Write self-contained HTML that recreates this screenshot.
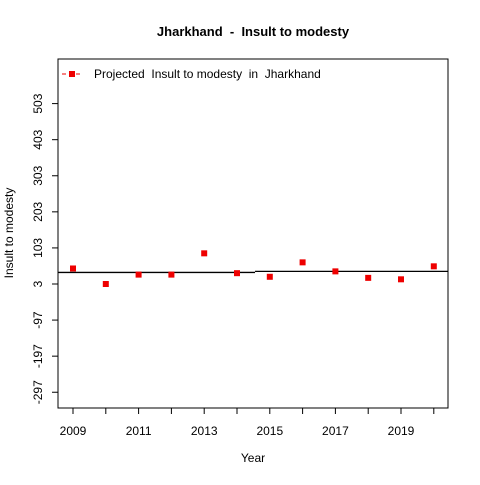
<!DOCTYPE html>
<html><head><meta charset="utf-8"><style>
body{margin:0;background:#fff;}
svg text{font-family:"Liberation Sans",Arial,sans-serif;white-space:pre;}
</style></head><body>
<svg id="chart" width="480" height="480" xmlns="http://www.w3.org/2000/svg" xml:space="preserve">
<text x="253" y="36" text-anchor="middle" font-size="13" font-weight="bold">Jharkhand  -  Insult to modesty</text>
<text x="253" y="462" text-anchor="middle" font-size="12">Year</text>
<text transform="translate(13,233) rotate(-90)" text-anchor="middle" font-size="12">Insult to modesty</text>
<rect x="58" y="59" width="390" height="349" fill="none" stroke="#000"/>
<g id="g"></g>
<g>
<line x1="62" y1="74" x2="82" y2="74" stroke="#e00" stroke-dasharray="4,3"/>
<rect x="69" y="71" width="6" height="6" fill="#e00"/>
<text x="94" y="78" font-size="12">Projected  Insult to modesty  in  Jharkhand</text>
</g>
</svg>
<script>
const years=[2009,2010,2011,2012,2013,2014,2015,2016,2017,2018,2019,2020];
const values=[46,3,29,29,88,33,23,63,38,20,16,52];
const yTicks=[-297,-197,-97,3,103,203,303,403,503];
const xTicks=[2009,2011,2013,2015,2017,2019];
const fitLeft=35, fitRight=38;
const X=v=>73+(v-2009)*32.8;
const Y=v=>284-(v-3)*0.3608;
const g=document.getElementById('g');
const NS='http://www.w3.org/2000/svg';
function mk(t,a){const e=document.createElementNS(NS,t);for(const k in a)e.setAttribute(k,a[k]);g.appendChild(e);return e;}
yTicks.forEach(t=>{
 const l=mk('line',{x1:52,x2:58,y1:Y(t),y2:Y(t),stroke:'#000'});
 
 
 const tx=mk('text',{x:0,y:0,'font-size':12,'text-anchor':'middle',transform:`translate(42,${Y(t)}) rotate(-90)`});
 tx.textContent=t;
 
 
});
years.forEach(t=>{
 const l=mk('line',{x1:X(t),x2:X(t),y1:408,y2:414,stroke:'#000'});
 
 
});
xTicks.forEach(t=>{
 const tx=mk('text',{x:X(t),y:435,'font-size':12,'text-anchor':'middle'});
 tx.textContent=t;
 
 
});
const a=mk('line',{x1:58,x2:X(2014.55),y1:Y(fitLeft),y2:Y(fitLeft),stroke:'#000','stroke-width':1.3});


const b=mk('line',{x1:X(2014.55),x2:448,y1:Y(fitRight),y2:Y(fitRight),stroke:'#000','stroke-width':1.3});


years.forEach((yr,i)=>{
 const p=mk('rect',{x:X(yr)-3,y:Y(values[i])-3,width:6,height:6,fill:'#e00'});
 
 
});
</script>
</body></html>
